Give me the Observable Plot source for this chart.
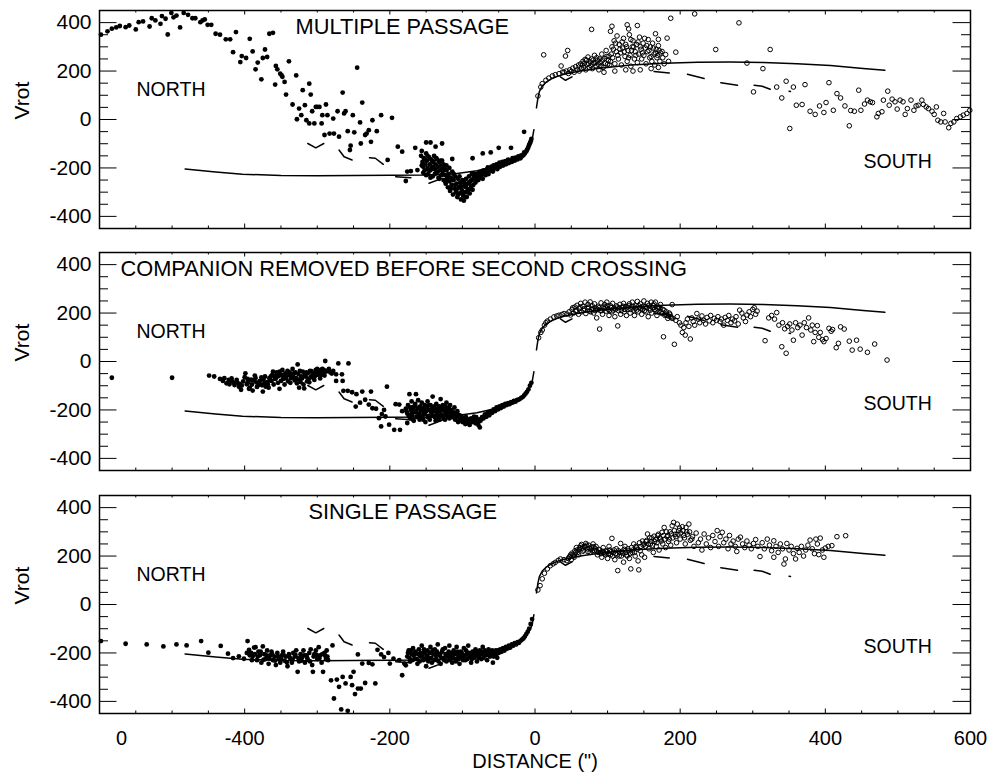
<!DOCTYPE html>
<html>
<head>
<meta charset="utf-8">
<script src="https://cdn.jsdelivr.net/npm/d3@7"></script>
<script src="https://cdn.jsdelivr.net/npm/@observablehq/plot@0.6"></script>
<style>
  html, body { margin: 0; padding: 0; background: #fff; }
  #chart { position: relative; width: 993px; height: 772px; }
  #chart svg { position: absolute; left: 0; }
</style>
</head>
<body>
<div id="chart"></div>
<script>
// Rotation velocity (Vrot) against distance along the slit, for three encounter models.
// Filled dots: northern half; open circles: southern half.

const xMajor = [-400, -200, 0, 200, 400];
const xMinor = [-550, -500, -450, -350, -300, -250, -150, -100, -50, 50, 100, 150, 250, 300, 350, 450, 500, 550];
const yMajor = [-400, -200, 0, 200, 400];
const yMinor = [-350, -300, -250, -150, -100, -50, 50, 100, 150, 250, 300, 350];
const xTickLabels = [-400, -200, 0, 200, 400, 600];

// Observed rotation curve (solid), north and south branches
const rcNorth = [[-482,-204],[-440,-217],[-403,-226],[-350,-231],[-300,-232],[-250,-231],[-200,-230],[-150,-229],[-110,-224],[-80,-212],[-60,-198],[-40,-182],[-25,-165],[-15,-145],[-8,-110],[-4,-85],[-1.5,-42]];
const rcSouth = [[2,48],[4,88],[6,115],[10,138],[15,153],[22,167],[30,177],[40,187],[60,199],[86,211],[132,225],[178,232],[224,236],[269,237],[315,235],[361,230],[407,223],[452,211],[482,203]];

// Second curve (dashed), drawn as its visible dashes
const dashNorth = [
  [[-313,-99],[-302,-117],[-291,-99]],
  [[-270,-126],[-263,-154],[-252,-167]],
  [[-228,-158],[-220,-160],[-209,-185]],
  [[-192,-236],[-171,-240]],
  [[-146,-263],[-128,-243]]
];
const dashSouth = [
  [[35,176],[42,162],[51,176]],
  [[164,198],[185,192]],
  [[210,187],[233,169]],
  [[256,152],[279,141]],
  [[302,141],[313,137],[324,125]],
  [[350,117],[352,116]]
];

// MULTIPLE PASSAGE
const topNorth = [
[-598,350],[-589,364],[-583,375],[-577,380],[-572,386],[-564,381],[-559,388],[-550,372],[-546,402],[-540,405],[-531,384],[-528,418],[-523,409],[-516,395],[-514,427],[-509,416],[-506,351],[-501,440],[-498,422],[-494,429],[-489,380],[-484,440],[-478,432],[-472,418],[-468,418],[-461,402],[-458,409],[-455,413],[-451,391],[-446,391],[-440,354],[-434,350],[-426,331],[-420,331],[-412,361],[-416,278],[-406,237],[-404,262],[-398,254],[-393,333],[-389,281],[-385,207],[-382,235],[-377,166],[-375,254],[-372,289],[-369,258],[-366,354],[-361,358],[-357,221],[-355,207],[-351,189],[-349,182],[-348,176],[-345,155],[-358,144],[-339,240],[-343,103],[-334,62],[-329,182],[-328,1],[-325,45],[-322,18],[-320,121],[-317,59],[-315,-3],[-311,148],[-309,103],[-311,-16],[-307,34],[-304,-16],[-302,52],[-300,52],[-297,52],[-294,-16],[-293,18],[-290,-64],[-288,62],[-286,18],[-283,-58],[-278,4],[-277,-58],[-272,34],[-270,-71],[-265,111],[-263,25],[-261,34],[-258,-48],[-255,-126],[-254,-108],[-251,18],[-249,-53],[-245,214],[-241,-12],[-240,-99],[-238,70],[-234,-64],[-232,-58],[-229,-44],[-224,-3],[-226,-92],[-218,-48],[-212,18],[-203,-167],[-197,7],
[-189,-112],[-183,-133],[-178,-254],[-176,-215],[-171,-213],[-165,-117],[-162,-209],[-156,-130],[-150,-95],[-144,-95],[-137,-112],[-128,-99],[-114,-163],[-86,-160],[-72,-140],[-61,-136],[-50,-117],[-33,-117],[-15,-51],
[-157,-150],[-155,-175],[-154,-195],[-153,-160],[-152,-210],[-151,-185],[-150,-140],[-149,-170],[-148,-200],[-147,-225],[-146,-155],[-145,-185],[-144,-210],[-143,-165],[-142,-195],[-141,-235],[-140,-175],[-139,-150],[-138,-205],[-137,-185],[-136,-220],[-135,-165],[-134,-195],[-133,-240],[-132,-175],[-131,-210],[-130,-190],[-129,-230],[-128,-170],[-127,-215],[-126,-250],[-125,-200],
[-124,-230],[-123,-265],[-122,-210],[-121,-245],[-120,-280],[-119,-225],[-118,-255],[-117,-295],[-116,-240],[-115,-270],[-114,-215],[-113,-310],[-112,-250],[-111,-285],[-110,-235],[-109,-300],[-108,-265],[-107,-320],[-106,-245],[-105,-280],[-104,-305],[-103,-260],[-102,-330],[-101,-290],[-100,-250],[-99,-315],[-98,-335],[-97,-275],[-96,-300],[-95,-245],[-94,-320],[-93,-265],[-92,-290],[-91,-235],[-90,-305],[-89,-255],[-88,-275],[-87,-225],[-86,-290],[-85,-245],
[-84,-240],[-82,-260],[-80,-225],[-78,-250],[-76,-235],[-74,-215],[-72,-245],[-70,-220],[-68,-230],[-66,-205],[-64,-225],[-62,-210],[-60,-195],[-58,-215],[-56,-200],[-54,-190],[-52,-205],[-50,-185],[-48,-195],[-46,-180],[-44,-190],[-42,-178],[-40,-185],[-38,-172],[-36,-180],[-34,-170],[-32,-175],[-30,-165],[-28,-170],[-26,-162],[-24,-165],[-22,-158],[-20,-160],[-18,-152],[-16,-148],[-14,-140],[-12,-132],[-10,-120],[-8,-105],[-6,-90],
[-156,-190],[-154,-220],[-152,-165],[-150,-230],[-148,-150],[-146,-210],[-144,-240],[-142,-170],[-140,-200],[-138,-225],[-136,-160],[-134,-215],[-132,-245],[-130,-170],[-128,-205],[-126,-185],[-124,-255],[-122,-190],[-120,-240],[-118,-200],[-116,-285],[-114,-250],[-112,-225],[-110,-270],[-108,-290],[-106,-310],[-104,-235],[-102,-275],[-100,-300],[-98,-260],[-97,-320],[-95,-280],[-93,-300],[-91,-260],[-89,-285],[-87,-250],[-85,-270],[-83,-225],[-81,-245],[-79,-235],[-77,-220],[-75,-240],[-73,-228],[-71,-210],[-69,-225],[-67,-215],[-65,-198],[-63,-212],[-61,-200],[-59,-205],[-57,-190],[-55,-198],[-53,-185],[-51,-192],[-49,-178],[-47,-186],[-45,-175],[-43,-182],[-41,-172],[-39,-176],[-37,-166],[-35,-170],[-31,-160],[-27,-158],[-23,-152],[-19,-148],[-15,-136],[-11,-125],[-9,-112],[-7,-98],[-5,-80]
];
const topSouth = [
[4,97],[8,134],[10,148],[15,162],[19,171],[24,180],[28,185],[33,189],[38,196],[12,267],[42,262],[45,285],[36,221],
[40,195],[43,200],[46,190],[48,205],[50,198],[52,212],[54,195],[56,218],[58,205],[60,225],[61,200],[63,230],[64,210],[66,240],[67,215],[69,248],[70,205],[72,228],[73,258],[75,215],[76,238],[78,250],[79,210],[81,232],[82,265],[84,222],[86,245],[88,205],[90,235],[92,270],[94,215],[96,252],[98,285],[100,228],[102,262],[104,240],
[106,300],[107,255],[109,325],[110,230],[112,280],[113,345],[115,250],[116,310],[118,275],[119,225],[121,295],[122,335],[124,260],[125,310],[127,240],[128,285],[130,350],[131,265],[132,220],[134,300],[135,325],[137,250],[138,280],[140,310],[141,235],[143,270],[144,340],[146,290],[147,250],[149,315],[150,265],[152,295],[153,230],[155,280],[156,330],[158,255],[159,300],[161,240],[162,315],[164,270],[165,225],[167,290],[168,255],[170,305],[172,240],[173,275],[176,255],[178,230],[180,268],[184,240],
[95,195],[110,200],[125,205],[135,200],[145,205],[160,210],[170,215],
[105,270],[108,290],[111,315],[114,265],[117,290],[120,320],[123,280],[126,300],[129,255],[132,330],[133,285],[136,300],[139,265],[142,320],[145,300],[148,275],[151,335],[154,305],[157,285],[160,260],[163,295],[166,275],[169,265],[171,285],[65,225],[68,232],[71,245],[74,230],[77,222],[80,245],[83,235],[85,255],[87,228],[89,250],[91,222],[93,245],[97,232],[99,260],[101,245],[103,225],
[78,372],[104,364],[106,385],[127,391],[141,388],[129,374],[166,354],[170,331],[182,336],[175,281],[194,278],[187,418],[220,436],[281,399],[249,289],[324,289],[292,233],[314,210],
[301,114],[340,89],[333,134],[346,158],[356,134],[372,144],[351,-37],[360,59],[368,62],[379,34],[386,21],[392,56],[398,29],[401,70],[405,152],[411,38],[416,107],[421,89],[427,56],[433,-26],[435,37],[440,34],[446,121],[449,38],[454,64],[458,80],[462,73],[465,70],[471,11],[473,25],[478,32],[480,80],[486,117],[488,59],[492,84],[496,73],[499,43],[503,80],[507,73],[510,21],[513,45],[518,80],[522,38],[525,56],[528,59],[533,80],[535,62],[539,52],[542,45],[547,34],[550,21],[553,52],[555,-3],[559,-10],[563,25],[565,-10],[570,-34],[573,-16],[577,-10],[581,4],[586,11],[590,18],[595,25],[599,38]
];

// COMPANION REMOVED BEFORE SECOND CROSSING
const midNorth = [
[-583,-67],[-500,-67],
[-449,-58],[-442,-62],[-434,-72],[-428,-69],[-422,-76],[-421,-94],[-417,-83],[-414,-97],[-411,-76],[-408,-104],[-405,-117],[-404,-99],[-399,-49],[-397,-94],[-394,-113],[-393,-108],[-389,-120],[-386,-58],[-384,-86],[-381,-97],[-379,-80],[-375,-124],[-373,-90],[-371,-104],[-367,-108],[-366,-69],[-364,-62],[-361,-42],[-359,-62],[-357,-69],[-355,-53],[-352,-113],[-352,-42],[-350,-80],[-348,-35],[-346,-62],[-344,-49],[-341,-39],[-339,-56],[-336,-69],[-334,-31],[-332,-49],[-329,-69],[-327,-12],[-325,-108],[-324,-39],[-322,-62],[-320,-42],[-318,-111],[-316,-62],[-313,-49],[-311,-86],[-310,-39],[-307,-58],[-304,-76],[-302,-35],[-300,-31],[-297,-49],[-295,-35],[-293,-31],[-289,2],[-288,-42],[-284,-31],[-282,-45],[-278,-39],[-274,-53],[-274,-80],[-271,-8],[-266,-53],[-265,-80],[-257,-8],
[-430,-80],[-425,-90],[-418,-70],[-410,-88],[-402,-82],[-396,-72],[-390,-95],[-388,-78],[-383,-105],[-377,-66],[-374,-75],[-369,-85],[-363,-80],[-360,-95],[-356,-45],[-354,-88],[-349,-55],[-345,-95],[-343,-70],[-340,-82],[-338,-45],[-335,-58],[-331,-78],[-328,-90],[-326,-52],[-323,-85],[-321,-70],[-319,-95],[-315,-45],[-312,-72],[-309,-65],[-306,-48],[-303,-60],[-299,-55],[-296,-70],[-292,-45],[-290,-58],[-286,-38],[-280,-50],
[-415,-88],[-407,-92],[-400,-65],[-395,-85],[-391,-75],[-385,-68],[-380,-90],[-376,-98],[-372,-62],[-368,-95],[-365,-78],[-362,-55],[-358,-72],[-353,-60],[-347,-72],[-342,-58],[-337,-88],[-333,-62],[-330,-45],[-325,-75],[-317,-55],[-314,-82],[-308,-40],[-305,-68],[-301,-45],[-298,-38],[-294,-55],[-291,-35],
[-264,-121],[-258,-121],[-252,-127],[-246,-135],[-238,-124],[-226,-124],[-204,-104],[-247,-186],[-241,-170],[-234,-158],[-229,-178],[-224,-193],[-219,-195],[-211,-217],[-215,-234],[-208,-200],[-206,-227],[-212,-268],[-201,-261],[-194,-282],[-186,-282],[-192,-176],[-187,-178],[-183,-205],[-176,-254],[-171,-220],
[-178,-195],[-176,-215],[-175,-180],[-173,-135],[-172,-235],[-171,-200],[-170,-165],[-169,-222],[-168,-188],[-167,-245],[-166,-205],[-165,-175],[-164,-135],[-163,-228],[-162,-195],[-161,-160],[-160,-215],[-159,-240],[-158,-185],[-157,-205],[-156,-170],[-155,-232],[-154,-195],[-153,-218],[-152,-180],[-151,-250],[-150,-205],[-149,-190],[-148,-165],[-147,-225],[-146,-200],[-145,-240],[-144,-180],[-143,-210],[-142,-195],[-141,-145],[-140,-225],[-139,-185],[-138,-205],[-137,-245],[-136,-175],[-135,-215],[-134,-195],[-133,-230],[-132,-185],[-131,-205],[-130,-155],[-129,-220],[-128,-195],[-127,-180],[-126,-235],[-125,-205],[-124,-185],[-123,-215],[-122,-170],[-121,-200],[-120,-228],[-119,-190],[-118,-210],[-117,-180],[-116,-225],[-115,-200],[-113,-215],[-111,-190],[-109,-230],[-107,-205],[-105,-220],
[-177,-205],[-174,-225],[-172,-190],[-170,-215],[-168,-240],[-166,-185],[-164,-210],[-162,-230],[-160,-190],[-158,-225],[-156,-205],[-154,-240],[-152,-215],[-150,-185],[-148,-230],[-146,-180],[-144,-225],[-142,-210],[-140,-190],[-138,-230],[-136,-200],[-134,-220],[-132,-240],[-130,-200],[-128,-225],[-126,-190],[-124,-240],[-122,-220],[-120,-195],[-118,-235],[-116,-205],[-114,-230],[-112,-210],[-110,-240],[-108,-220],[-106,-250],[-103,-232],[-101,-245],[-99,-240],[-97,-250],[-95,-230],[-93,-255],[-91,-240],[-89,-250],[-87,-245],[-85,-238],[-83,-245],[-81,-230],[-79,-250],[-77,-240],[-74,-238],
[-104,-240],[-102,-225],[-100,-250],[-98,-232],[-96,-258],[-94,-238],[-92,-245],[-90,-262],[-88,-235],[-86,-250],[-84,-228],[-82,-255],[-80,-240],[-78,-262],[-76,-272],[-75,-245],[-73,-230],
[-71,-235],[-69,-218],[-67,-228],[-65,-210],[-63,-222],[-61,-205],[-59,-212],[-57,-198],[-55,-205],[-53,-190],[-51,-198],[-49,-185],[-47,-192],[-45,-180],[-43,-186],[-41,-175],[-39,-180],[-37,-172],[-35,-176],[-33,-168],[-31,-170],[-29,-163],[-27,-166],[-25,-160],[-23,-158],[-21,-155],[-19,-150],[-17,-147],[-15,-140],[-13,-133],[-11,-125],[-9,-115],[-7,-100],[-5,-88]
];
const midSouth = [
[5,98],[8,120],[10,130],[13,150],[15,160],[17,167],[21,175],[26,184],[30,188],[33,191],[37,194],[40,198],[44,196],
[47,205],[49,192],[51,215],[53,200],[55,225],[56,208],[58,232],[60,195],[61,218],[63,240],[64,205],[66,228],[67,212],[69,245],[70,198],[72,222],[73,236],[75,208],[76,246],[78,215],[79,230],[81,200],[82,238],[84,220],[85,180],[87,228],[89,134],[90,210],[91,242],[93,195],[94,225],[96,235],[98,208],[99,245],[101,215],[102,190],[104,230],[106,205],[107,240],[109,220],[110,185],[112,230],[114,147],[115,210],[117,236],[118,195],[120,222],[122,240],[123,205],[125,228],[126,190],[128,215],[130,238],[131,200],[133,225],[134,245],[136,212],[137,190],[139,230],[141,248],[142,205],[144,222],[145,238],[147,195],[148,215],[150,250],[152,228],[153,205],[155,240],[156,185],[158,220],[160,245],[161,200],[163,232],[165,215],[166,245],[168,190],[170,225],[171,208],[173,235],[175,198],[176,215],[177,102],[179,190],[181,205],[183,178],[185,200],[187,185],[189,235],[192,71],
[52,222],[57,210],[62,225],[68,218],[74,225],[77,205],[80,218],[83,210],[86,215],[88,222],[92,210],[95,218],[97,225],[100,230],[103,210],[105,222],[108,212],[111,215],[113,225],[116,222],[119,210],[121,228],[124,215],[127,225],[129,230],[132,215],[135,228],[138,220],[140,212],[143,230],[146,218],[149,228],[151,210],[154,222],[157,232],[159,212],[162,222],[164,238],[167,210],[169,218],[172,222],[174,205],[178,212],[180,195],[182,190],[184,188],[186,195],[188,180],[190,178],
[194,170],[196,185],[199,160],[201,150],[203,120],[205,140],[207,109],[208,160],[210,175],[212,145],[214,93],[216,180],[218,165],[220,150],[223,198],[225,175],[227,160],[230,188],[232,170],[235,155],[237,182],[240,168],[242,190],[245,160],[247,178],[250,170],[252,185],[255,165],[257,175],[260,150],[262,182],[265,170],[267,190],[270,160],[272,175],[275,168],[277,185],[280,155],[282,212],[285,200],[287,180],[290,165],[292,192],[295,205],[297,185],[300,215],[302,222],[304,195],[306,208],
[317,86],[322,180],[326,190],[330,175],[333,202],[336,150],[340,61],[341,160],[344,135],[346,34],[348,145],[351,155],[354,130],[356,88],[359,160],[362,140],[365,150],[368,109],[371,160],[374,140],[377,180],[380,130],[382,150],[384,82],[386,120],[389,148],[391,100],[393,120],[396,90],[398,82],[401,95],[405,137],[408,125],[410,132],[415,57],[418,75],[421,143],[426,134],[433,84],[437,47],[443,88],[448,51],[458,38],[468,72],[485,6]
];

// SINGLE PASSAGE
const botNorth = [
[-598,-151],[-564,-162],[-535,-165],[-512,-173],[-494,-165],[-480,-169],[-460,-151],[-450,-199],[-433,-171],[-423,-203],[-416,-221],[-408,-214],[-401,-224],
[-396,-151],[-394,-187],[-391,-200],[-389,-215],[-387,-178],[-385,-176],[-383,-230],[-381,-195],[-379,-210],[-377,-240],[-375,-173],[-373,-205],[-371,-225],[-369,-190],[-367,-245],[-365,-210],[-363,-195],[-361,-230],[-359,-215],[-357,-250],[-355,-200],[-353,-225],[-351,-240],[-349,-210],[-347,-195],[-345,-232],[-343,-215],[-341,-255],[-339,-205],[-337,-225],[-335,-240],[-333,-200],[-331,-215],[-329,-189],[-327,-278],[-325,-235],[-323,-205],[-321,-220],[-319,-190],[-317,-240],[-315,-210],[-313,-228],[-311,-200],[-309,-185],[-307,-250],[-306,-278],[-304,-205],[-302,-190],[-300,-225],[-298,-176],[-296,-210],[-294,-240],[-292,-278],[-290,-200],[-288,-225],[-286,-215],
[-397,-200],[-393,-210],[-390,-230],[-386,-205],[-382,-215],[-378,-195],[-374,-228],[-370,-210],[-366,-222],[-362,-205],[-358,-232],[-354,-215],[-350,-225],[-346,-210],[-342,-238],[-338,-218],[-334,-228],[-330,-208],[-326,-222],[-322,-232],[-318,-210],[-314,-220],[-310,-235],[-305,-215],[-301,-208],[-297,-222],[-293,-205],[-289,-212],[-287,-190],[-285,-230],
[-279,-169],[-281,-313],[-277,-388],[-273,-310],[-270,-340],[-267,-433],[-265,-299],[-261,-326],[-258,-439],[-254,-299],[-250,-278],[-252,-333],[-248,-370],[-244,-347],[-240,-347],[-234,-324],[-220,-326],[-244,-206],[-238,-244],[-229,-241],[-224,-247],[-217,-187],[-212,-206],[-208,-217],[-202,-200],[-200,-244],[-195,-224],[-183,-292],[-187,-230],[-180,-244],[-178,-251],
[-176,-215],[-174,-190],[-172,-235],[-170,-205],[-168,-180],[-166,-225],[-164,-200],[-162,-245],[-160,-185],[-158,-215],[-156,-170],[-154,-230],[-152,-200],[-150,-255],[-148,-190],[-146,-220],[-144,-175],[-142,-240],[-140,-205],[-138,-185],[-136,-225],[-134,-165],[-132,-210],[-130,-245],[-128,-195],[-126,-220],[-124,-180],[-122,-235],[-120,-205],[-118,-170],[-116,-215],[-114,-240],[-112,-190],[-110,-225],[-108,-175],[-106,-210],[-104,-245],[-102,-195],[-100,-220],[-98,-180],[-96,-230],[-94,-205],[-92,-170],[-90,-215],[-88,-240],[-86,-195],[-84,-220],[-82,-185],[-80,-235],[-78,-205],[-76,-190],[-74,-225],[-72,-175],[-70,-210],[-68,-200],[-66,-230],[-64,-185],[-62,-215],[-60,-195],[-58,-240],[-56,-205],[-54,-190],[-52,-220],[-50,-200],
[-175,-200],[-173,-220],[-171,-190],[-169,-230],[-167,-210],[-165,-195],[-163,-225],[-161,-205],[-159,-235],[-157,-200],[-155,-215],[-153,-185],[-151,-225],[-149,-210],[-147,-235],[-145,-200],[-143,-220],[-141,-190],[-139,-230],[-137,-210],[-135,-195],[-133,-235],[-131,-205],[-129,-220],[-127,-185],[-125,-230],[-123,-205],[-121,-215],[-119,-195],[-117,-230],[-115,-200],[-113,-220],[-111,-205],[-109,-235],[-107,-195],[-105,-225],[-103,-210],[-101,-200],[-99,-230],[-97,-210],[-95,-190],[-93,-225],[-91,-200],[-89,-215],[-87,-225],[-85,-205],[-83,-200],[-81,-215],[-79,-195],[-77,-220],[-75,-205],[-73,-195],[-71,-220],[-69,-190],[-67,-210],[-65,-200],[-63,-195],[-61,-210],[-59,-190],[-57,-215],[-55,-195],[-53,-205],[-51,-190],
[-48,-185],[-46,-195],[-44,-180],[-42,-190],[-40,-175],[-38,-182],[-36,-170],[-34,-178],[-32,-165],[-30,-170],[-28,-160],[-26,-165],[-24,-155],[-22,-158],[-20,-150],[-18,-145],[-16,-140],[-14,-132],[-12,-122],[-10,-112],[-8,-100],[-6,-80],[-4,-60]
];
const botSouth = [
[4,60],[7,78],[10,106],[13,129],[17,147],[21,160],[25,168],[28,174],[32,182],[35,188],[40,185],[44,181],
[46,190],[48,198],[50,185],[52,205],[54,195],[56,215],[58,225],[60,205],[62,235],[64,248],[66,220],[68,240],[70,252],[72,230],[74,245],[76,215],[78,238],[80,250],[82,222],[84,240],[86,205],[88,228],[90,215],[92,195],[94,235],[96,210],[98,222],[100,190],[102,240],[104,205],[106,273],[108,215],[110,185],[112,230],[114,140],[116,200],[118,252],[120,220],[122,175],[124,240],[126,205],[128,230],[130,190],[132,147],[134,215],[136,250],[138,200],[140,235],[142,180],[143,143],[145,222],[147,205],[149,245],[151,195],
[47,195],[49,205],[51,212],[53,200],[55,222],[57,235],[59,215],[61,228],[63,242],[65,232],[67,225],[69,238],[71,245],[73,218],[75,232],[77,228],[79,222],[81,238],[83,230],[85,220],[87,215],[89,225],[91,210],[93,220],[95,215],[97,205],[99,218],[101,210],[103,225],[105,218],[107,200],[109,225],[111,210],[113,205],[115,222],[117,215],[119,200],[121,212],[123,228],[125,215],[127,200],[129,222],[131,210],[133,235],[135,225],[137,215],[139,240],[141,228],[144,255],[146,240],[148,262],[150,250],[152,240],[154,265],[156,250],[158,275],[160,260],[162,245],[164,282],[166,268],[168,255],[170,290],[172,275],[174,262],[177,285],[179,270],[181,300],[183,285],[185,270],[188,292],[192,305],[194,280],[197,290],[199,315],[201,295],[204,305],[206,275],[208,318],[210,290],[213,300],[216,270],
[153,260],[155,291],[157,230],[159,250],[161,275],[163,215],[165,260],[167,240],[169,285],[171,225],[173,270],[175,298],[176,250],[178,318],[180,235],[182,280],[184,260],[186,300],[187,245],[189,325],[190,275],[191,339],[193,290],[195,255],[196,332],[198,305],[200,270],[203,321],[205,285],[207,250],[209,300],[212,332],[214,265],
[217,280],[219,240],[222,295],[225,255],[228,270],[230,225],[233,291],[236,250],[239,275],[242,235],[245,285],[248,260],[251,305],[253,240],[255,280],[258,298],[260,255],[263,270],[266,230],[268,285],[270,250],[273,262],[276,240],[278,219],[280,270],[283,278],[286,250],[289,235],[292,262],[295,245],[298,230],[301,252],[304,268],[307,240],[310,198],[313,255],[316,230],[320,270],[323,245],[326,222],[329,263],[329,195],[332,240],[335,215],[338,250],[341,230],[343,167],[345,188],[347,252],[350,225],[353,240],[356,210],[359,188],[361,232],[364,215],[367,240],[370,200],[373,225],[376,245],[379,266],[382,230],[385,210],[387,270],[389,250],[391,206],[393,274],[396,225],[398,195],[400,233],[404,240],[409,243],[416,280],[428,284]
];

const panels = [
  {title: "MULTIPLE PASSAGE", tdx: 196, north: topNorth, south: topSouth, top: 0},
  {title: "COMPANION REMOVED BEFORE SECOND CROSSING", tdx: 21, north: midNorth, south: midSouth, top: 242},
  {title: "SINGLE PASSAGE", tdx: 209, north: botNorth, south: botSouth, top: 485, xLabels: true}
];

const W = 993, ML = 99, MR = 23, MT = 10, IH = 218;
const IW = W - ML - MR;
const fontFamily = '"Liberation Sans", Arial, Helvetica, sans-serif';
const plain = d => String(d);   // hyphen-minus, as on the printed axes

const toRows = (segs) => segs.map((s, i) => s.map(([x, v]) => ({seg: i, x, v})));
const dashAll = [
  ...toRows(dashNorth).flat(),
  ...toRows(dashSouth).flat().map(d => ({...d, seg: d.seg + dashNorth.length}))
];

const px = d => d[0], py = d => d[1];

function panel(p) {
  const MB = p.xLabels ? 59 : 2;
  const marks = [
    Plot.line(rcNorth, {x: px, y: py, strokeWidth: 1.5}),
    Plot.line(rcSouth, {x: px, y: py, strokeWidth: 1.5}),
    Plot.line(dashAll, {x: "x", y: "v", z: "seg", strokeWidth: 1.5}),
    Plot.dot(p.north, {x: px, y: py, r: 2.4, fill: "black"}),
    Plot.dot(p.south, {x: px, y: py, r: 2.3, stroke: "black", strokeWidth: 1, fill: "none"}),
    Plot.frame({strokeWidth: 1.5}),
    Plot.tickY(yMajor, {insetRight: IW - 17.5}),
    Plot.tickY(yMinor, {insetRight: IW - 9}),
    Plot.tickY(yMajor, {insetLeft: IW - 17.5}),
    Plot.tickY(yMinor, {insetLeft: IW - 9}),
    Plot.tickX(xMajor, {insetTop: IH - 4.5}),
    Plot.tickX(xMinor, {insetTop: IH - 2.5}),
    Plot.tickX(xMajor, {insetBottom: IH - 4.5}),
    Plot.tickX(xMinor, {insetBottom: IH - 2.5}),
    Plot.axisY({ticks: yMajor, tickFormat: plain, tickSize: 0, tickPadding: 8, fontSize: 21, label: null}),
    Plot.text(["Vrot"], {text: d => d, frameAnchor: "left", dx: -77, rotate: -90, fontSize: 21}),
    Plot.text([p.title], {text: d => d, frameAnchor: "top-left", dx: p.tdx, dy: 8, lineAnchor: "top", textAnchor: "start", fontSize: 21.8}),
    Plot.text(["NORTH"], {text: d => d, frameAnchor: "top-left", dx: 37, dy: 71.5, lineAnchor: "top", textAnchor: "start", fontSize: 19.5}),
    Plot.text(["SOUTH"], {text: d => d, frameAnchor: "top-left", dx: 764, dy: 144, lineAnchor: "top", textAnchor: "start", fontSize: 19.5})
  ];
  if (p.xLabels) {
    marks.push(
      Plot.axisX({ticks: xTickLabels, tickFormat: plain, tickSize: 0, tickPadding: 17, fontSize: 20, label: null}),
      Plot.axisX({ticks: [-600], tickFormat: () => "0", tickSize: 0, tickPadding: 17, dx: 22, fontSize: 20, label: null}),
      Plot.text(['DISTANCE (")'], {text: d => d, frameAnchor: "bottom", dy: 40, lineAnchor: "top", fontSize: 20})
    );
  }
  const svg = Plot.plot({
    width: W,
    height: MT + IH + MB,
    marginLeft: ML, marginRight: MR, marginTop: MT, marginBottom: MB,
    x: p.xLabels ? {domain: [-600, 600]} : {domain: [-600, 600], axis: null},
    y: {domain: [-450, 450]},
    style: {fontFamily, fontSize: "21px", color: "black", background: "transparent", overflow: "visible"},
    marks
  });
  svg.style.top = p.top + "px";
  return svg;
}

const chart = document.getElementById("chart");
for (const p of panels) chart.appendChild(panel(p));
</script>
</body>
</html>
